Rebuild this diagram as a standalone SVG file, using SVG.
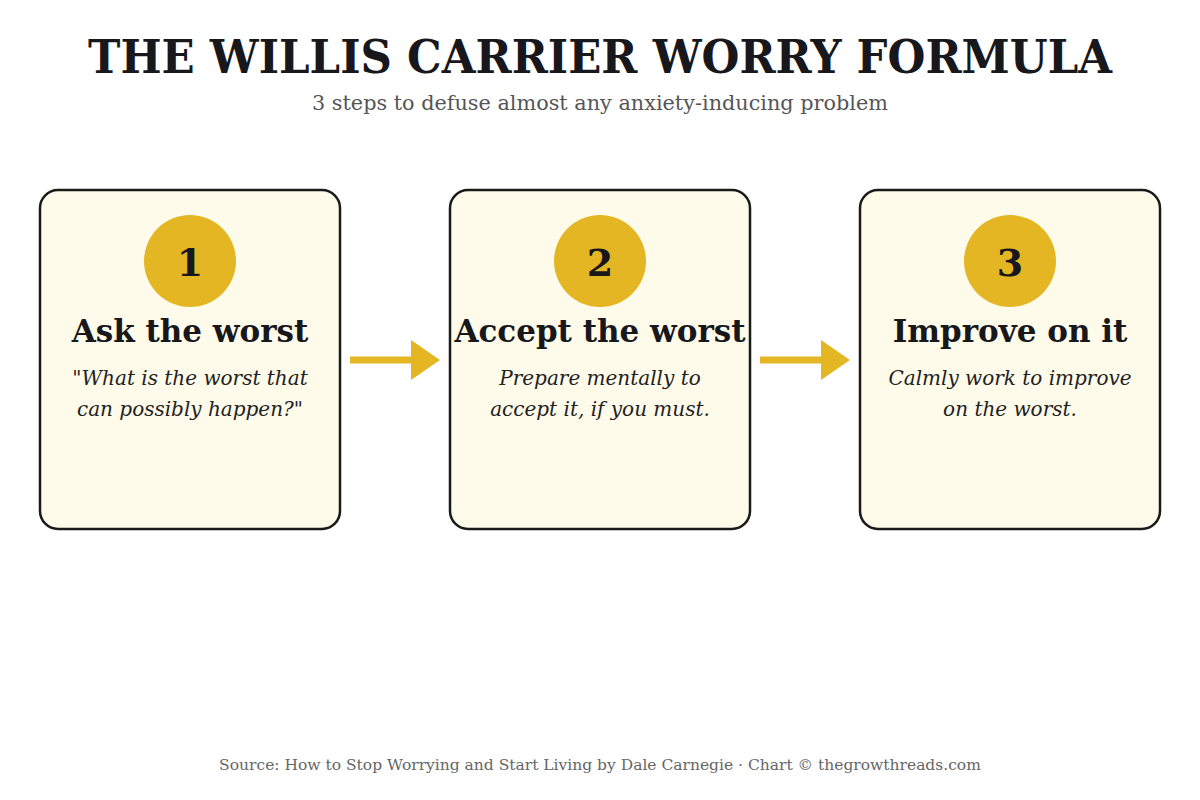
<svg xmlns="http://www.w3.org/2000/svg" width="1200" height="800" viewBox="0 0 1200 800">
<defs>
<style>
.title{font-family:"DejaVu Serif","Liberation Serif",serif;font-weight:bold;font-size:47px;fill:#18181c;text-anchor:middle}
.sub{font-family:"DejaVu Serif","Liberation Serif",serif;font-size:20px;fill:#555;text-anchor:middle}
.box{fill:#fefbea;stroke:#1a1a1a;stroke-width:2.5}
.num{fill:#e4b623}
.numt{font-family:"DejaVu Serif","Liberation Serif",serif;font-weight:bold;font-size:38px;fill:#18181c;text-anchor:middle}
.head{font-family:"DejaVu Serif","Liberation Serif",serif;font-weight:bold;font-size:31px;fill:#18181c;text-anchor:middle}
.desc{font-family:"DejaVu Serif","Liberation Serif",serif;font-style:italic;font-size:20px;fill:#222;text-anchor:middle}
.foot{font-family:"DejaVu Serif","Liberation Serif",serif;font-size:15.5px;fill:#666;text-anchor:middle}
.arr{fill:#e4b623}
</style>
</defs>
<rect width="1200" height="800" fill="#ffffff"/>
<text class="title" x="600" y="73" textLength="1024" lengthAdjust="spacingAndGlyphs">THE WILLIS CARRIER WORRY FORMULA</text>
<text class="sub" x="600" y="110" textLength="576" lengthAdjust="spacingAndGlyphs">3 steps to defuse almost any anxiety-inducing problem</text>
<g id="node1">
<rect class="box" x="40" y="190" width="300" height="339" rx="18"/>
<circle class="num" cx="190" cy="261" r="46"/>
<text class="numt" x="190" y="276">1</text>
<text class="head" x="190" y="342">Ask the worst</text>
<text class="desc" x="190" y="385">"What is the worst that</text>
<text class="desc" x="190" y="416">can possibly happen?"</text>
</g>
<g id="node2">
<rect class="box" x="450" y="190" width="300" height="339" rx="18"/>
<circle class="num" cx="600" cy="261" r="46"/>
<text class="numt" x="600" y="276">2</text>
<text class="head" x="600" y="342">Accept the worst</text>
<text class="desc" x="600" y="385">Prepare mentally to</text>
<text class="desc" x="600" y="416">accept it, if you must.</text>
</g>
<g id="node3">
<rect class="box" x="860" y="190" width="300" height="339" rx="18"/>
<circle class="num" cx="1010" cy="261" r="46"/>
<text class="numt" x="1010" y="276">3</text>
<text class="head" x="1010" y="342">Improve on it</text>
<text class="desc" x="1010" y="385">Calmly work to improve</text>
<text class="desc" x="1010" y="416">on the worst.</text>
</g>
<g id="connectors">
<path class="arr" d="M350 356.5 H411 V340 L440 360 L411 380 V363.5 H350 Z"/>
<path class="arr" d="M760 356.5 H821 V340 L850 360 L821 380 V363.5 H760 Z"/>
</g>
<text class="foot" x="600" y="770">Source: How to Stop Worrying and Start Living by Dale Carnegie · Chart © thegrowthreads.com</text>
</svg>
